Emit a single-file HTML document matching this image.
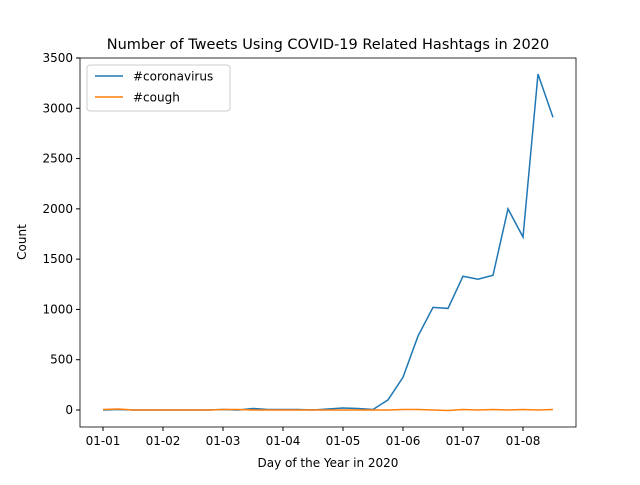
<!DOCTYPE html>
<html><head><meta charset="utf-8"><style>
body{margin:0;background:#fff;font-family:"Liberation Sans","DejaVu Sans",sans-serif}
text{font-family:"DejaVu Sans","Liberation Sans",sans-serif}
</style></head><body>
<svg id="c" width="640" height="480"></svg>
<script>
const tickLabels=["01-01","01-02","01-03","01-04","01-05","01-06","01-07","01-08"];
const yTicks=[0,500,1000,1500,2000,2500,3000,3500];
const coronavirus=[0,5,0,0,0,0,0,0,5,0,15,5,5,5,0,10,20,15,5,100,325,735,1020,1010,1330,1300,1340,2000,1720,3340,2910];
const cough=[5,10,0,0,0,0,0,0,5,5,0,0,0,0,0,0,0,0,0,0,5,5,0,-5,5,0,5,0,5,0,5];
const svg=document.getElementById('c');
const NS='http://www.w3.org/2000/svg';
const L=80,R=576,T=58,B=427;
const xs=i=>103+i*15;
const ys=v=>410-v*(352/3500);
function el(t,a,txt){const e=document.createElementNS(NS,t);for(const k in a)e.setAttribute(k,a[k]);if(txt!==undefined)e.textContent=txt;svg.appendChild(e);return e;}
let t=el('text',{x:328,y:49,'text-anchor':'middle','font-size':'14.5'},'Number of Tweets Using COVID-19 Related Hashtags in 2020');

tickLabels.forEach((s,k)=>{const x=xs(k*4);
 let l=el('line',{x1:x,x2:x,y1:B,y2:B+4,stroke:'#000'});
 let tx=el('text',{x:x,y:B+18,'text-anchor':'middle','font-size':'12'},s);});
yTicks.forEach(v=>{const y=ys(v);
 let l=el('line',{x1:L-4,x2:L,y1:y,y2:y,stroke:'#000'});
 let tx=el('text',{x:L-7,y:y+4,'text-anchor':'end','font-size':'12'},v);});
t=el('text',{x:328,y:467,'text-anchor':'middle','font-size':'12'},'Day of the Year in 2020');
t=el('text',{x:26,y:242,'text-anchor':'middle','font-size':'12',transform:'rotate(-90 26 242)'},'Count');
function line(d,c,n){let p=el('polyline',{points:d.map((v,i)=>xs(i)+','+ys(v)).join(' '),fill:'none',stroke:c,'stroke-width':1.5});}
line(coronavirus,'#1f77b4','coronavirus-line');
line(cough,'#ff7f0e','cough-line');
let f=el('rect',{x:L,y:T,width:R-L,height:B-T,fill:'none',stroke:'#000','stroke-width':0.8});
let lg=el('rect',{x:87,y:65,width:143,height:46,fill:'#fff',stroke:'#ccc',rx:3});
[['#coronavirus','#1f77b4',76],['#cough','#ff7f0e',97]].forEach(([s,c,y])=>{
 let l=el('line',{x1:95,x2:123,y1:y,y2:y,stroke:c,'stroke-width':1.5});
 let tx=el('text',{x:133,y:y+4.5,'font-size':'12'},s);});
</script>
</body></html>
